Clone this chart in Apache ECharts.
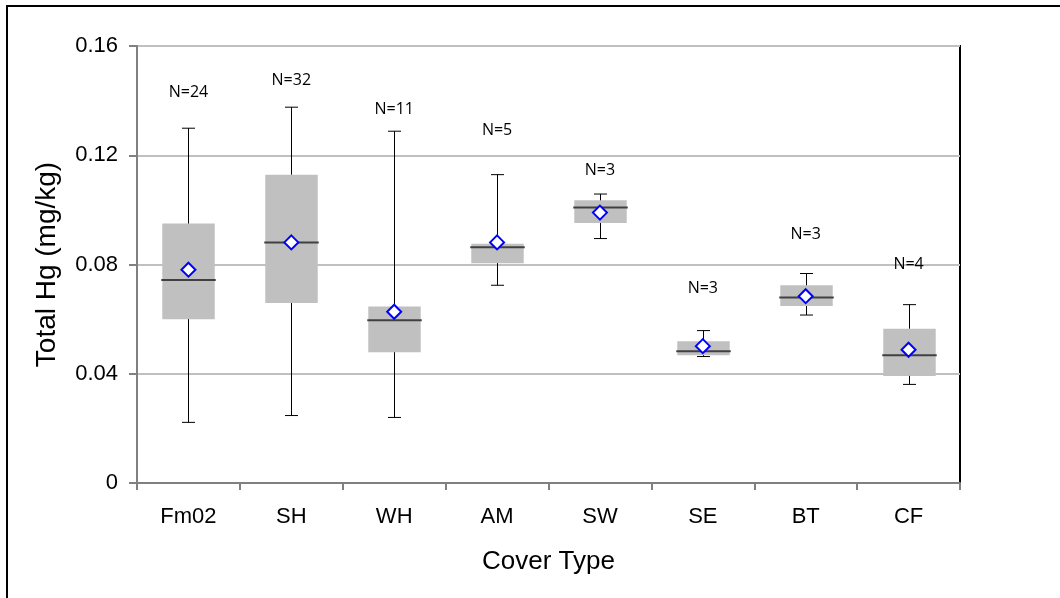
<!DOCTYPE html>
<html>
<head>
<meta charset="utf-8">
<script src="https://cdn.jsdelivr.net/npm/echarts@6/dist/echarts.min.js"></script>
<style>
  html, body { margin: 0; padding: 0; background: #fff; }
  #chart { width: 1060px; height: 598px; }
</style>
</head>
<body>
<div id="chart"></div>
<script>
// Total mercury by cover type: box = quartiles, bar = median, diamond = mean
const categories = ['Fm02', 'SH', 'WH', 'AM', 'SW', 'SE', 'BT', 'CF'];
const whiskerLow = [0.0222, 0.0247, 0.0240, 0.0724, 0.0895, 0.0463, 0.0615, 0.0361];
const quartile1  = [0.0600, 0.0659, 0.0479, 0.0805, 0.0952, 0.0468, 0.0648, 0.0392];
const medians    = [0.0743, 0.0881, 0.0596, 0.0863, 0.1009, 0.0482, 0.0679, 0.0468];
const quartile3  = [0.0950, 0.1129, 0.0646, 0.0876, 0.1035, 0.0519, 0.0724, 0.0565];
const whiskerHigh= [0.1299, 0.1376, 0.1288, 0.1129, 0.1058, 0.0558, 0.0767, 0.0653];
const means      = [0.0781, 0.0881, 0.0627, 0.0881, 0.0990, 0.0501, 0.0684, 0.0488];
const sampleSizes= [24, 32, 11, 5, 3, 3, 3, 4];
const countLabelLevel = [0.1429, 0.1473, 0.1367, 0.1290, 0.1143, 0.0711, 0.0909, 0.0800];
const yTicks = [0, 0.04, 0.08, 0.12, 0.16];

const boxData = categories.map((c, i) =>
  [i, whiskerLow[i], quartile1[i], medians[i], quartile3[i], whiskerHigh[i]]);
const meanData = categories.map((c, i) => [i, means[i]]);
const countData = categories.map((c, i) => [i, countLabelLevel[i], sampleSizes[i]]);

function renderBox(params, api) {
  const idx = api.value(0);
  const pLow = api.coord([idx, api.value(1)]);
  const pQ1 = api.coord([idx, api.value(2)]);
  const pMed = api.coord([idx, api.value(3)]);
  const pQ3 = api.coord([idx, api.value(4)]);
  const pHigh = api.coord([idx, api.value(5)]);
  const band = api.size([1, 0])[0];
  const cx = Math.round(pMed[0]) + 0.5;
  const half = band * 0.255;
  const cap = 6.5;
  const whiskerStyle = { stroke: '#000', lineWidth: 1 };
  return {
    type: 'group',
    children: [
      { type: 'rect',
        shape: { x: cx - half, y: pQ3[1], width: half * 2, height: pQ1[1] - pQ3[1] },
        style: { fill: '#c0c0c0' } },
      { type: 'line', shape: { x1: cx, y1: pQ3[1], x2: cx, y2: pHigh[1] }, style: whiskerStyle },
      { type: 'line', shape: { x1: cx - cap, y1: pHigh[1], x2: cx + cap, y2: pHigh[1] }, style: whiskerStyle },
      { type: 'line', shape: { x1: cx, y1: pQ1[1], x2: cx, y2: pLow[1] }, style: whiskerStyle },
      { type: 'line', shape: { x1: cx - cap, y1: pLow[1], x2: cx + cap, y2: pLow[1] }, style: whiskerStyle },
      { type: 'line',
        shape: { x1: cx - half - 1, y1: pMed[1], x2: cx + half + 1, y2: pMed[1] },
        style: { stroke: '#404040', lineWidth: 2 } }
    ]
  };
}

const chart = echarts.init(document.getElementById('chart'), null, { renderer: 'canvas' });
chart.setOption({
  animation: false,
  backgroundColor: '#fff',
  graphic: [{
    type: 'rect', silent: true, z: 100,
    shape: { x: 7, y: 6, width: 1080, height: 620 },
    style: { fill: null, stroke: '#000', lineWidth: 2 }
  }],
  grid: {
    left: 137, right: 100, top: 46, bottom: 115,
    show: true, borderColor: '#000', borderWidth: 2, backgroundColor: 'transparent'
  },
  xAxis: {
    type: 'category',
    data: categories,
    name: 'Cover Type',
    nameLocation: 'middle',
    nameGap: 66,
    nameTextStyle: { fontFamily: 'Liberation Sans', fontSize: 26, color: '#000' },
    axisLine: { lineStyle: { color: '#808080', width: 2 } },
    axisTick: { show: true, length: 7, lineStyle: { color: '#808080', width: 2 } },
    axisLabel: { fontFamily: 'Liberation Sans', fontSize: 22, color: '#000', margin: 23 },
    splitLine: { show: false }
  },
  yAxis: {
    type: 'value',
    min: yTicks[0],
    max: yTicks[yTicks.length - 1],
    interval: 0.04,
    name: 'Total Hg (mg/kg)',
    nameLocation: 'middle',
    nameRotate: 90,
    nameGap: 76,
    nameTextStyle: { fontFamily: 'Liberation Sans', fontSize: 28, color: '#000' },
    axisLine: { show: true, lineStyle: { color: '#808080', width: 2 } },
    axisTick: { show: true, length: 8, lineStyle: { color: '#808080', width: 2 } },
    axisLabel: {
      fontFamily: 'Liberation Sans', fontSize: 22, color: '#000', margin: 19,
      formatter: v => (v === 0 ? '0' : v.toFixed(2))
    },
    splitLine: { show: true, lineStyle: { color: '#c0c0c0', width: 2 } }
  },
  series: [
    {
      type: 'custom',
      renderItem: renderBox,
      encode: { x: 0, y: [1, 2, 3, 4, 5] },
      data: boxData,
      z: 2
    },
    {
      type: 'scatter',
      data: meanData,
      symbol: 'diamond',
      symbolSize: 14,
      itemStyle: { color: '#fff', borderColor: '#0000ff', borderWidth: 2, opacity: 1 },
      z: 3
    },
    {
      type: 'scatter',
      data: countData,
      symbolSize: 0,
      itemStyle: { opacity: 1 },
      label: {
        show: true,
        position: 'inside',
        formatter: p => 'N=' + p.value[2],
        fontFamily: 'Open Sans',
        fontSize: 16,
        color: '#000',
        opacity: 1
      },
      z: 3
    }
  ]
});
</script>
</body>
</html>
